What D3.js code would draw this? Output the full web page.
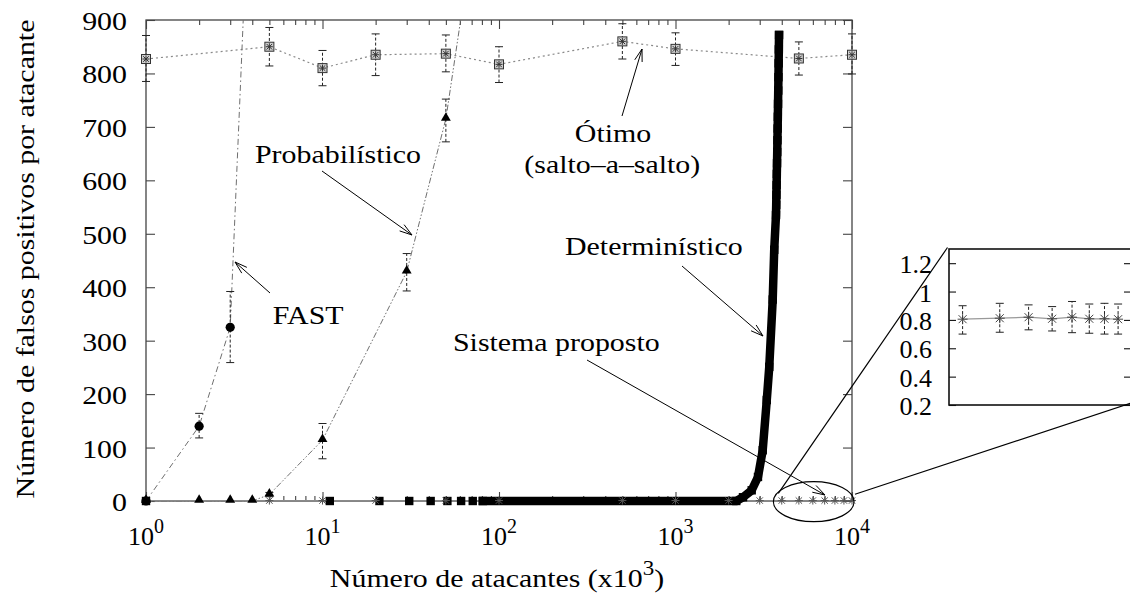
<!DOCTYPE html>
<html>
<head>
<meta charset="utf-8">
<script src="https://d3js.org/d3.v7.min.js"></script>
<style>
  body { margin: 0; background: #fff; }
  text { font-family: "Liberation Serif", "Times New Roman", serif; fill: #000; }
</style>
</head>
<body>
<svg width="1130" height="598"></svg>
<script>

// ---- data ----
var otimoX  = [1, 5, 10, 20, 50, 100, 500, 1000, 5000, 10000];
var otimoY  = [827, 850, 810, 835, 837, 817, 860, 846, 828, 835];
var otimoLo = [785, 814, 777, 796, 803, 783, 827, 815, 797, 799];
var otimoHi = [871, 886, 843, 874, 872, 850, 893, 876, 859, 874];

var fastX  = [1, 2, 3, 4];
var fastY  = [0, 140, 325, 1300];
var fastLo = [null, 118, 259, null];
var fastHi = [null, 164, 392, null];

var probX  = [1, 2, 3, 4, 5, 10, 30, 50, 100];
var probY  = [0, 0, 0, 0, 12, 114, 429, 715, 1380];
var probLo = [null, null, null, null, 8, 79, 393, 672, null];
var probHi = [null, null, null, null, 16, 145, 463, 752, null];

// deterministic: separate squares at small x, dense run afterwards
var detSparseX = [1, 11, 21, 31, 41, 51, 61, 71];
var detSparseY = [0, 0, 0, 0, 0, 0, 0, 0];
var detBandX = [81, 2210, 2412, 2702, 2933, 3120, 3290, 3398, 3555, 3625,
                3710, 3720, 3730, 3740, 3750, 3760, 3770, 3780, 3790, 3800,
                3810, 3820, 3830, 3840, 3850, 3860];
var detBandY = [0, 0, 7, 20, 45, 95, 189, 251, 377, 470,
                535, 554, 573, 591, 612, 632, 653, 675, 697, 719,
                743, 768, 793, 819, 845, 872];

var sisX  = [1, 5, 10, 20, 50, 100, 500, 1000, 2000, 3000, 4000, 5000, 6000, 7000, 8000, 9000, 10000];
var sisY  = [0.8, 0.8, 0.8, 0.8, 0.8, 0.8, 0.8, 0.8, 0.8, 0.805, 0.812, 0.819, 0.808, 0.819, 0.808, 0.808, 0.805];
var sisLo = [0.7, 0.7, 0.7, 0.7, 0.7, 0.7, 0.7, 0.7, 0.7, 0.70, 0.713, 0.73, 0.722, 0.71, 0.706, 0.70, 0.70];
var sisHi = [0.9, 0.9, 0.9, 0.9, 0.9, 0.9, 0.9, 0.9, 0.9, 0.90, 0.917, 0.906, 0.894, 0.93, 0.912, 0.917, 0.912];

var yTicks = [0, 100, 200, 300, 400, 500, 600, 700, 800, 900];
var xTicks = [1, 10, 100, 1000, 10000];
var xTickExp = ["0", "1", "2", "3", "4"];
var insetTicks = [0.2, 0.4, 0.6, 0.8, 1.0, 1.2];
var insetTickLabels = ["0.2", "0.4", "0.6", "0.8", "1", "1.2"];

function zip(xs, ys, lo, hi) {
  return xs.map(function(d, i) {
    return {x: d, y: ys[i], lo: lo ? lo[i] : null, hi: hi ? hi[i] : null};
  });
}

var otimo = zip(otimoX, otimoY, otimoLo, otimoHi);
var fast = zip(fastX, fastY, fastLo, fastHi);
var prob = zip(probX, probY, probLo, probHi);
var detSparse = zip(detSparseX, detSparseY);
var detBand = zip(detBandX, detBandY);
var sis = zip(sisX, sisY, sisLo, sisHi);

// ---- layout ----
var svg = d3.select("svg");
var L = 146, R = 852, T = 20, B = 501;

var x = d3.scaleLog().domain([1, 1e4]).range([L, R]);
var y = d3.scaleLinear().domain([0, 900]).range([B, T]);

// inset (zoom of sistema proposto)
var iL = 949, iR = 1131, iT = 249, iB = 405;
var ix = d3.scaleLog().domain([2700, 11050]).range([iL, iR]);
var iy = d3.scaleLinear().domain([0.2, 1.3]).range([iB, iT]);

var defs = svg.append("defs");
defs.append("clipPath").attr("id", "clipMain")
  .append("rect").attr("x", L - 6).attr("y", T).attr("width", R - L + 12).attr("height", B - T + 10);
defs.append("clipPath").attr("id", "clipInset")
  .append("rect").attr("x", iL).attr("y", iT).attr("width", iR - iL).attr("height", iB - iT);

function txt(g, px, py, s, size, sx, anchor) {
  return g.append("text")
    .attr("transform", "translate(" + px + "," + py + ") scale(" + sx + ",1)")
    .attr("text-anchor", anchor || "start")
    .style("font-size", size + "px")
    .text(s);
}

// ---- axes: ticks inward, gnuplot style ----
var minorX = [];
[1, 10, 100, 1000].forEach(function(d) { for (var k = 2; k <= 9; k++) minorX.push(d * k); });

var axes = svg.append("g").attr("class", "axes");
function tickStyle(g) {
  g.select(".domain").remove();
  g.selectAll("line").attr("stroke", "#444").attr("stroke-width", 1.1);
  g.selectAll("text").remove();
}
axes.append("g").attr("transform", "translate(0," + B + ")")
  .call(d3.axisBottom(x).tickValues(xTicks).tickSize(-9)).call(tickStyle);
axes.append("g").attr("transform", "translate(0," + B + ")")
  .call(d3.axisBottom(x).tickValues(minorX).tickSize(-5)).call(tickStyle);
axes.append("g").attr("transform", "translate(0," + T + ")")
  .call(d3.axisTop(x).tickValues(xTicks).tickSize(-9)).call(tickStyle);
axes.append("g").attr("transform", "translate(0," + T + ")")
  .call(d3.axisTop(x).tickValues(minorX).tickSize(-5)).call(tickStyle);
axes.append("g").attr("transform", "translate(" + L + ",0)")
  .call(d3.axisLeft(y).tickValues(yTicks).tickSize(-9)).call(tickStyle);
axes.append("g").attr("transform", "translate(" + R + ",0)")
  .call(d3.axisRight(y).tickValues(yTicks).tickSize(-9)).call(tickStyle);

axes.append("rect").attr("x", L).attr("y", T).attr("width", R - L).attr("height", B - T)
  .attr("fill", "none").attr("stroke", "#444").attr("stroke-width", 1.3);

// tick labels
yTicks.forEach(function(d) { txt(axes, 127, y(d) + 10, String(d), 26, 1.15, "end"); });
xTicks.forEach(function(d, i) {
  var t = axes.append("text").attr("x", x(d)).attr("y", 545).attr("text-anchor", "middle")
    .style("font-size", "26px");
  t.append("tspan").text("10");
  t.append("tspan").attr("dy", -12).style("font-size", "20px").text(xTickExp[i]);
});

// axis titles
var xt = axes.append("text").attr("x", 497).attr("y", 587).attr("text-anchor", "middle")
  .style("font-size", "26px").attr("transform", "translate(497,0) scale(1.15,1) translate(-497,0)");
xt.append("tspan").text("Número de atacantes (x10");
xt.append("tspan").attr("dy", -12).style("font-size", "20px").text("3");
xt.append("tspan").attr("dy", 12).text(")");

axes.append("text")
  .attr("transform", "translate(34,259) rotate(-90) scale(1.15,1)")
  .attr("text-anchor", "middle").style("font-size", "26px")
  .text("Número de falsos positivos por atacante");

// ---- series ----
var plot = svg.append("g").attr("clip-path", "url(#clipMain)");

function lineFor(xs, ys) {
  return d3.line().x(function(d) { return xs(d.x); }).y(function(d) { return ys(d.y); });
}

plot.append("path").datum(otimo).attr("d", lineFor(x, y))
  .attr("fill", "none").attr("stroke", "#8a8a8a").attr("stroke-width", 1.2).attr("stroke-dasharray", "2,3");
plot.append("path").datum(fast).attr("d", lineFor(x, y))
  .attr("fill", "none").attr("stroke", "#6f6f6f").attr("stroke-width", 1).attr("stroke-dasharray", "6,3,1.5,3");
plot.append("path").datum(prob).attr("d", lineFor(x, y))
  .attr("fill", "none").attr("stroke", "#6f6f6f").attr("stroke-width", 1).attr("stroke-dasharray", "6,2,1.5,2,1.5,2");
plot.append("path").datum(sis).attr("d", lineFor(x, y))
  .attr("fill", "none").attr("stroke", "#8a8a8a").attr("stroke-width", 1.2);

// error bars
function errorBars(g, data, xs, ys) {
  var e = g.append("g").attr("stroke", "#222").attr("stroke-width", 1);
  data.filter(function(d) { return d.lo != null; }).forEach(function(d) {
    var cx = xs(d.x);
    e.append("line").attr("x1", cx).attr("x2", cx).attr("y1", ys(d.lo)).attr("y2", ys(d.hi))
      .attr("stroke-dasharray", "3,2");
    e.append("line").attr("x1", cx - 4).attr("x2", cx + 4).attr("y1", ys(d.lo)).attr("y2", ys(d.lo));
    e.append("line").attr("x1", cx - 4).attr("x2", cx + 4).attr("y1", ys(d.hi)).attr("y2", ys(d.hi));
  });
}
errorBars(plot, otimo, x, y);
errorBars(plot, fast, x, y);
errorBars(plot, prob, x, y);

// deterministic: thick run + squares
plot.append("path").datum(detBand).attr("d", lineFor(x, y))
  .attr("fill", "none").attr("stroke", "#000").attr("stroke-width", 8.5)
  .attr("stroke-linejoin", "round").attr("stroke-linecap", "square");

var marks = svg.append("g");
function inRange(d) { return d.y <= 900; }

marks.selectAll("rect.det").data(detSparse.concat(detBand)).join("rect").attr("class", "det")
  .attr("x", function(d) { return x(d.x) - 4.2; }).attr("y", function(d) { return y(d.y) - 4.2; })
  .attr("width", 8.4).attr("height", 8.4).attr("fill", "#000");

marks.selectAll("circle.fast").data(fast.filter(inRange)).join("circle").attr("class", "fast")
  .attr("cx", function(d) { return x(d.x); }).attr("cy", function(d) { return y(d.y); })
  .attr("r", 4.6).attr("fill", "#000");

marks.selectAll("path.prob").data(prob.filter(inRange)).join("path").attr("class", "prob")
  .attr("transform", function(d) { return "translate(" + x(d.x) + "," + (y(d.y) - 1) + ")"; })
  .attr("d", d3.symbol(d3.symbolTriangle, 42)).attr("fill", "#000");

function asterisk(g, cx, cy, r, color) {
  var a = g.append("g").attr("stroke", color).attr("stroke-width", 1);
  a.append("line").attr("x1", cx).attr("x2", cx).attr("y1", cy - r).attr("y2", cy + r);
  a.append("line").attr("x1", cx - r).attr("x2", cx + r).attr("y1", cy).attr("y2", cy);
  a.append("line").attr("x1", cx - r * 0.8).attr("x2", cx + r * 0.8).attr("y1", cy - r * 0.8).attr("y2", cy + r * 0.8);
  a.append("line").attr("x1", cx - r * 0.8).attr("x2", cx + r * 0.8).attr("y1", cy + r * 0.8).attr("y2", cy - r * 0.8);
}

otimo.forEach(function(d) {
  var cx = x(d.x), cy = y(d.y);
  marks.append("rect").attr("x", cx - 4.5).attr("y", cy - 4.5).attr("width", 9).attr("height", 9)
    .attr("fill", "#d0d0d0").attr("stroke", "#333").attr("stroke-width", 1);
  asterisk(marks, cx, cy, 3.5, "#333");
});

sis.filter(function(d) { return d.x > 1; }).forEach(function(d) {
  asterisk(marks, x(d.x), y(d.y), 4, "#555");
});

// ---- inset ----
var inset = svg.append("g");
inset.append("g").attr("transform", "translate(" + iL + ",0)")
  .call(d3.axisLeft(iy).tickValues(insetTicks).tickSize(-7)).call(tickStyle);
inset.append("g").attr("transform", "translate(" + iR + ",0)")
  .call(d3.axisRight(iy).tickValues(insetTicks).tickSize(-7)).call(tickStyle);
inset.selectAll("line").attr("stroke", "#111");
insetTicks.forEach(function(d, i) { txt(inset, 932, iy(d) + 10, insetTickLabels[i], 26, 1.0, "end"); });

var ig = inset.append("g").attr("clip-path", "url(#clipInset)");
var sisIn = sis.filter(function(d) { return d.x >= 3000; });
ig.append("path").datum(sisIn).attr("d", lineFor(ix, iy))
  .attr("fill", "none").attr("stroke", "#999").attr("stroke-width", 1.2);
errorBars(ig, sisIn, ix, iy);
sisIn.forEach(function(d) { asterisk(ig, ix(d.x), iy(d.y), 5, "#444"); });

inset.append("rect").attr("x", iL).attr("y", iT).attr("width", iR - iL).attr("height", iB - iT)
  .attr("fill", "none").attr("stroke", "#111").attr("stroke-width", 1.6);

// ---- annotations ----
var ann = svg.append("g");
txt(ann, 255, 163, "Probabilístico", 26, 1.15);
txt(ann, 272.7, 324, "FAST", 26, 1.15);
txt(ann, 613, 141.7, "Ótimo", 26, 1.15, "middle");
txt(ann, 612.3, 173, "(salto–a–salto)", 26, 1.15, "middle");
txt(ann, 565, 255, "Determinístico", 26, 1.15);
txt(ann, 453, 350.5, "Sistema proposto", 26, 1.15);

var arrows = [
  [322, 171, 412, 235],
  [270, 293, 235, 262],
  [622, 116, 642, 49],
  [682, 266, 763, 336],
  [587, 360, 825, 495]
];
arrows.forEach(function(a) {
  var g = ann.append("g").attr("stroke", "#000").attr("stroke-width", 1).attr("fill", "none");
  g.append("line").attr("x1", a[0]).attr("y1", a[1]).attr("x2", a[2]).attr("y2", a[3]);
  var ang = Math.atan2(a[3] - a[1], a[2] - a[0]);
  [-0.3, 0.3].forEach(function(o) {
    g.append("line").attr("x1", a[2]).attr("y1", a[3])
      .attr("x2", a[2] - 13 * Math.cos(ang + o)).attr("y2", a[3] - 13 * Math.sin(ang + o));
  });
});

// zoom ellipse and connectors
ann.append("ellipse").attr("cx", 813.7).attr("cy", 501.7).attr("rx", 40.3).attr("ry", 20)
  .attr("fill", "none").attr("stroke", "#000").attr("stroke-width", 1.2);
ann.append("line").attr("x1", 778.3).attr("y1", 493.3).attr("x2", iL - 1.5).attr("y2", iT - 1.5)
  .attr("stroke", "#000").attr("stroke-width", 1.2);
ann.append("line").attr("x1", 855).attr("y1", 494.3).attr("x2", iR).attr("y2", 403)
  .attr("stroke", "#000").attr("stroke-width", 1.2);

</script>
</body>
</html>
